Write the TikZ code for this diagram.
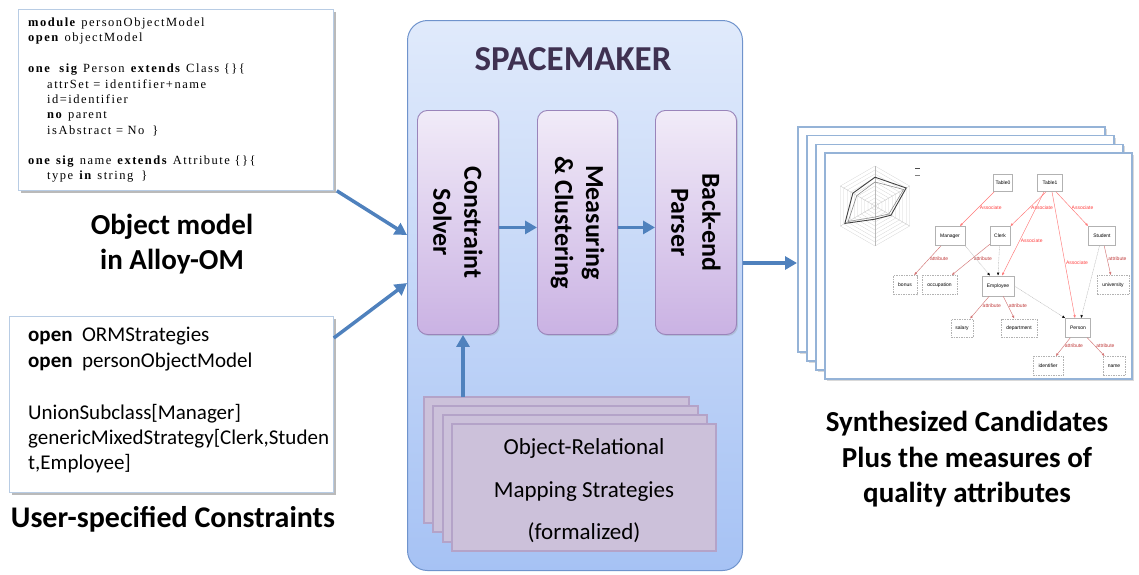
\documentclass[tikz,border=0pt]{standalone}
\usepackage{fontspec}
\setmainfont{Carlito}
\newfontfamily\codefont[LetterSpace=12]{Liberation Serif}
\newfontfamily\graphfont{Liberation Sans}
\usetikzlibrary{arrows.meta,shadows,calc}
\definecolor{arrowblue}{HTML}{4F81BD}
\definecolor{contTop}{HTML}{E0EAFB}
\definecolor{contBot}{HTML}{A6C2F4}
\definecolor{contBorder}{HTML}{6F93CC}
\definecolor{procTop}{HTML}{F1EBF8}
\definecolor{procBot}{HTML}{CAB2E3}
\definecolor{procBorder}{HTML}{9A84BA}
\definecolor{ormFill}{HTML}{CCC1DA}
\definecolor{ormBorder}{HTML}{B4A3C8}
\definecolor{pageBorder}{HTML}{95B3D7}
\definecolor{titleCol}{HTML}{3F3151}
\definecolor{assocRed}{HTML}{FF4040}
\definecolor{attrRed}{HTML}{C03A3A}
\definecolor{boxBorder}{HTML}{B8CCE4}
\tikzset{
  codebox/.style={draw=boxBorder, line width=0.8pt, fill=white, anchor=north west, inner sep=0pt,
    drop shadow={shadow xshift=2.5pt, shadow yshift=-2.5pt, opacity=0.45, fill=black!60}},
  codeline/.style={anchor=base west, inner sep=0pt, font=\codefont\fontsize{12.5}{15}\selectfont},
  userline/.style={anchor=base west, inner sep=0pt, font=\fontsize{21}{25}\selectfont},
  bigbold/.style={anchor=base, inner sep=0pt, font=\bfseries\fontsize{29}{35}\selectfont},
  container/.style={draw=contBorder, line width=1pt, rounded corners=20pt, top color=contTop, bottom color=contBot,
    anchor=north west, inner sep=0pt, minimum width=335pt, minimum height=550pt},
  procbox/.style={draw=procBorder, line width=0.9pt, rounded corners=10pt, top color=procTop, bottom color=procBot,
    anchor=north west, inner sep=0pt, minimum height=224pt,
    drop shadow={shadow xshift=1.5pt, shadow yshift=-1.5pt, opacity=0.25}},
  proclabel/.style={rotate=-90, align=center, inner sep=0pt, font=\bfseries\fontsize{26}{31}\selectfont},
  bluearrow/.style={draw=arrowblue, line width=3.5pt, -{Triangle[length=12pt,width=13pt]}},
  ormsheet/.style={draw=ormBorder, line width=2pt, fill=ormFill},
  ormline/.style={anchor=base, inner sep=0pt, font=\fontsize{23}{27}\selectfont},
  page/.style={draw=pageBorder, line width=1.5pt, fill=white,
    drop shadow={shadow xshift=2pt, shadow yshift=-2pt, opacity=0.3}},
  gnode/.style={draw=gray!60, line width=0.7pt, fill=white, inner sep=0pt, font=\graphfont\fontsize{5}{6}\selectfont},
  anode/.style={gnode, dash pattern=on 1.5pt off 1pt},
  assoc/.style={draw=assocRed!70, line width=0.45pt, -{Latex[length=3pt,width=2.5pt]}},
  attr/.style={draw=attrRed!70, line width=0.45pt, -{Latex[length=3pt,width=2.5pt]}},
  inh/.style={draw=gray!55, line width=0.4pt, dash pattern=on 1pt off 0.6pt, -{Latex[length=3pt,width=2.5pt,black]}},
  alab/.style={anchor=west, inner sep=1pt, text=assocRed, font=\graphfont\fontsize{5}{6}\selectfont},
  tlab/.style={anchor=west, inner sep=1pt, text=attrRed, font=\graphfont\fontsize{5}{6}\selectfont},
}
\begin{document}
\begin{tikzpicture}[x=1pt,y=-1pt]
\useasboundingbox (0,0) rectangle (1139,574);

% ---------- object model code box ----------
\node[codebox, minimum width=315pt, minimum height=181pt] (om) at (18,9) {};
\node[codeline] (c1) at (28,26) {\textbf{module} personObjectModel};
\node[codeline] (c2) at (28,41) {\textbf{open} objectModel};
\node[codeline] (c3) at (28,72) {\textbf{one}\hspace{8pt}\textbf{sig} Person \textbf{extends} Class \{\}\{};
\node[codeline] (c4) at (47,88) {attrSet = identifier+name};
\node[codeline] (c5) at (47,103) {id=identifier};
\node[codeline] (c6) at (47,118) {\textbf{no} parent};
\node[codeline] (c7) at (47,134) {isAbstract = No\hspace{8pt}\}};
\node[codeline] (c8) at (28,164) {\textbf{one} \textbf{sig} name \textbf{extends} Attribute \{\}\{};
\node[codeline] (c9) at (47,179) {type \textbf{in} string\hspace{8pt}\}};

\node[bigbold] (oml1) at (172,234) {Object model};
\node[bigbold] (oml2) at (172,269) {in Alloy-OM};

% ---------- user constraints box ----------
\node[codebox, minimum width=324pt, minimum height=176pt] (uc) at (9,316) {};
\node[userline] (u1) at (28,341) {\textbf{open}\ \ ORMStrategies};
\node[userline] (u2) at (28,367) {\textbf{open}\ \ personObjectModel};
\node[userline] (u3) at (28,419) {UnionSubclass[Manager]};
\node[userline] (u4) at (28,444) {genericMixedStrategy[Clerk,Studen};
\node[userline] (u5) at (28,469) {t,Employee]};

\node[bigbold, font=\bfseries\fontsize{30}{35}\selectfont] (ucl) at (173,527) {User-specified Constraints};

% ---------- SPACEMAKER container ----------
\node[container] (sm) at (407,20) {};
\node[anchor=base, inner sep=0pt, text=titleCol, font=\bfseries\fontsize{35}{40}\selectfont] (title) at (573,70) {SPACEMAKER};

\node[procbox, minimum width=81pt] (cs) at (417,110) {};
\node[procbox, minimum width=80pt] (mc) at (537,110) {};
\node[procbox, minimum width=81pt] (bp) at (655,110) {};
\node[proclabel] (csl) at (cs.center) {Constraint\\Solver};
\node[proclabel] (mcl) at (mc.center) {Measuring\\\& Clustering};
\node[proclabel] (bpl) at (bp.center) {Back-end\\Parser};

\draw[bluearrow] ([yshift=-5pt]cs.east) -- ([yshift=-5pt]mc.west);
\draw[bluearrow] ([yshift=-5pt]mc.east) -- ([yshift=-5pt]bp.west);

% ---------- ORM stack ----------
\foreach \k in {0,1,2,3}{
  \path[ormsheet] ({424+9.3*\k},{397+9*\k}) rectangle ({689+9*\k},{523+9.3*\k});
}
\coordinate (ormtop) at (463,397);
\node[ormline] (o1) at (584,454) {Object-Relational};
\node[ormline] (o2) at (584,497) {Mapping Strategies};
\node[ormline] (o3) at (584,539) {(formalized)};
\draw[bluearrow] (ormtop) -- (cs.south -| ormtop);

% ---------- input arrows ----------
\coordinate (in1) at (sm.west |- 0,235);
\coordinate (in2) at (sm.west |- 0,283);
\draw[bluearrow] ([xshift=3pt]om.south east) -- (in1);
\draw[bluearrow] ([yshift=-22pt]uc.north east) -- (in2);

% ---------- result pages ----------
\foreach \k in {0,1,2,3}{
  \path[page] ({798+9*\k},{127+8.7*\k}) rectangle ({1105+9*\k},{352+9*\k});
}
\coordinate (pg) at (797,263);
\draw[bluearrow] (sm.east |- pg) -- (pg);

% radar chart
\begin{scope}[shift={(875,206)},x=1pt,y=1pt]
  \foreach \r in {4,8,...,40}
    \draw[gray!35,line width=0.25pt] (90:\r) -- (30:\r) -- (-30:\r) -- (-90:\r) -- (-150:\r) -- (150:\r) -- cycle;
  \foreach \a in {90,30,-30,-90,-150,150}
    \draw[gray!55,line width=0.25pt] (0,0) -- (\a:40);
  \draw[gray, line width=0.5pt] (90:24) -- (30:33) -- (-30:16) -- (-90:11) -- (-150:31) -- (150:21) -- cycle;
  \draw[black!75, line width=0.9pt] (90:28.8) -- (30:36) -- (-30:18.4) -- (-90:13.2) -- (-150:34.8) -- (150:25.6) -- cycle;
  \draw[black!70, line width=0.5pt] (40,38) -- (45,38);
  \draw[gray, line width=0.5pt] (40,31) -- (45,31);
\end{scope}

% graph nodes
\node[gnode, minimum width=19pt, minimum height=17pt] (t0) at (1003,183) {Table0};
\node[gnode, minimum width=25pt, minimum height=17pt] (t1) at (1050,183) {Table1};
\node[gnode, minimum width=30pt, minimum height=19pt] (mg) at (950,236) {Manager};
\node[gnode, minimum width=20pt, minimum height=19pt] (ck) at (1000,236) {Clerk};
\node[gnode, minimum width=27pt, minimum height=19pt] (st) at (1102,236) {Student};
\node[anode, minimum width=24pt, minimum height=19pt] (bo) at (905,285) {bonus};
\node[anode, minimum width=35pt, minimum height=19pt] (oc) at (939.5,285) {occupation};
\node[gnode, minimum width=32pt, minimum height=20pt] (em) at (998,286) {Employee};
\node[anode, minimum width=32pt, minimum height=19pt] (un) at (1113,285) {university};
\node[anode, minimum width=22pt, minimum height=18pt] (sa) at (962,328) {salary};
\node[anode, minimum width=36pt, minimum height=18pt] (de) at (1019,328) {department};
\node[gnode, minimum width=25pt, minimum height=19pt] (pe) at (1078,328) {Person};
\node[anode, minimum width=30pt, minimum height=19pt] (id) at (1048,366) {identifier};
\node[anode, minimum width=22pt, minimum height=19pt] (nm) at (1114,366) {name};

\draw[assoc] (t0) -- node[alab, pos=0.45] {Associate} (mg);
\draw[assoc] ([xshift=-4pt]t1.south) -- node[alab, pos=0.45] {Associate} (ck.north east);
\draw[assoc] ([xshift=6pt]t1.south) -- node[alab, pos=0.45] {Associate} (st.north west);
\draw[assoc] ([xshift=-6pt]t1.south) -- node[alab, pos=0.58] {Associate} ([xshift=4pt]em.north);
\draw[assoc] ([xshift=2pt]t1.south) -- node[alab, pos=0.56] {Associate} ([xshift=-3pt]pe.north);

\draw[attr] (mg) -- node[tlab, pos=0.45] {attribute} (bo);
\draw[attr] (ck) -- node[tlab, pos=0.45] {attribute} (oc);
\draw[attr] (st) -- node[tlab, pos=0.45] {attribute} (un);
\draw[attr] (em) -- node[tlab, pos=0.4] {attribute} (sa);
\draw[attr] (em) -- node[tlab, pos=0.4] {attribute} (de);
\draw[attr] (pe) -- node[tlab, pos=0.45] {attribute} (id);
\draw[attr] (pe) -- node[tlab, pos=0.45] {attribute} (nm);

\draw[inh] (mg.south east) -- ([xshift=-8pt]em.north);
\draw[inh] (ck) -- (em.north);
\draw[inh] (st) -- ([xshift=3pt]pe.north);
\draw[inh] (em.east) -- (pe.north west);

\node[bigbold] (s1) at (967,431) {Synthesized Candidates};
\node[bigbold] (s2) at (967,467) {Plus the measures of};
\node[bigbold] (s3) at (967,502) {quality attributes};
\end{tikzpicture}
\end{document}
